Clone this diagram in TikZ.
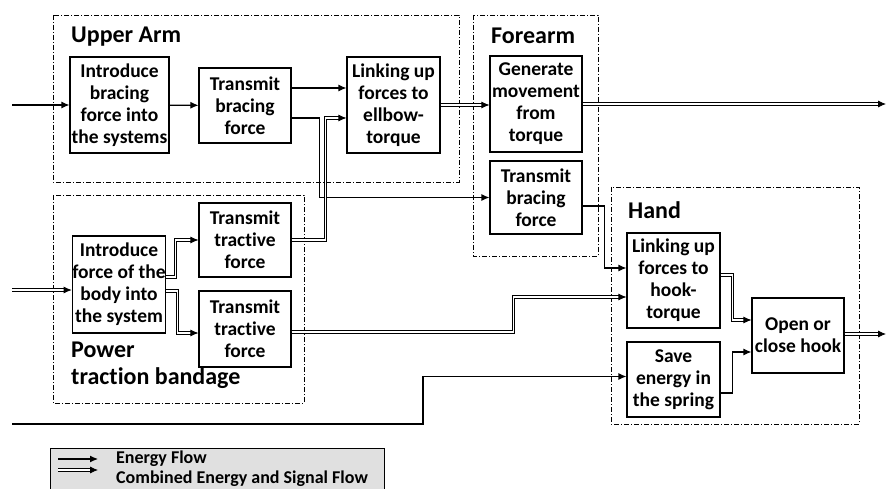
\documentclass[tikz,border=0pt]{standalone}
\usepackage{fontspec}
\setmainfont{Carlito}[Ligatures=NoCommon]
\usetikzlibrary{arrows.meta}

\begin{document}
\begin{tikzpicture}
  [x=1pt,y=-1pt,
   blk/.style={draw,line width=1.1pt,align=center,inner sep=0pt,
     font=\fontsize{19.5}{22}\selectfont\bfseries},
   sz/.style 2 args={minimum width=#1pt,minimum height=#2pt},
   grp/.style={draw,line width=0.7pt,dash pattern=on 5pt off 2pt on 1pt off 2pt},
   hdr/.style={anchor=west,inner sep=0pt,align=left,
     font=\fontsize{24}{27}\selectfont\bfseries},
   ef/.style={line width=1.1pt,-{Latex[length=8pt,width=7pt]}},
   cf/.style={line width=0.8pt,double=white,double distance=1.6pt,
     -{Latex[length=8pt,width=7pt]}}]
  \useasboundingbox (0,0) rectangle (886,489);
  % groups
  \draw[grp] (53,15) rectangle (459,182);
  \draw[grp] (473,15) rectangle (598,256);
  \draw[grp] (53,195) rectangle (304,403);
  \draw[grp] (611,187) rectangle (859,424);
  \node[hdr] (lua) at (71,37) {Upper Arm};
  \node[hdr] (lfa) at (491,36) {Forearm};
  \node[hdr] (lha) at (628,210) {Hand};
  \node[hdr,anchor=north west] (lpt) at (71,342) {Power\\traction bandage};
  % blocks
  \node[blk,sz={99}{96}] (ua1) at (119.5,105) {Introduce\\bracing\\force into\\the systems};
  \node[blk,sz={92}{75}] (ua2) at (245,105.5) {Transmit\\bracing\\force};
  \node[blk,sz={93}{96}] (ua3) at (393.5,105) {Linking up\\forces to\\ellbow-\\torque};
  \node[blk,sz={92}{96}] (fa1) at (536,104) {Generate\\movement\\from\\torque};
  \node[blk,sz={92}{73}] (fa2) at (536,197.5) {Transmit\\bracing\\force};
  \node[blk,sz={92}{97}] (pt1) at (119,284.5) {Introduce\\force of the\\body into\\the system};
  \node[blk,sz={92}{74}] (pt2) at (245,240) {Transmit\\tractive\\force};
  \node[blk,sz={92}{76}] (pt3) at (245,329) {Transmit\\tractive\\force};
  \node[blk,sz={93}{95}] (ha1) at (673.5,280.5) {Linking up\\forces to\\hook-\\torque};
  \node[blk,sz={93}{75}] (ha2) at (673.5,379.5) {Save\\energy in\\the spring};
  \node[blk,sz={92}{75}] (ha3) at (798,335.5) {Open or\\close hook};
  \coordinate (in1) at (12,105);
  \coordinate (in2) at (12,290);
  \coordinate (in3) at (12,424);
  \coordinate (out1) at (886,104);
  \coordinate (out2) at (886,334);
  % energy flow
  \foreach \from/\to in {in1/ua1,ua1/ua2}
    \draw[ef] (\from) -- (\to);
  \draw[ef] ([yshift=17.5pt]ua2.east) -- ([yshift=17.5pt]ua2.east -| ua3.west);
  \draw[ef] ([yshift=-12.5pt]ua2.east) -- ++(28,0) |- (fa2.west);
  \draw[ef] ([yshift=-8.5pt]fa2.east) -- ++(22,0) |- ([yshift=12.5pt]ha1.west);
  \draw[ef] (in3) -- ++(411,0) |- ([yshift=3pt]ha2.west);
  \draw[ef] ([yshift=-13.5pt]ha2.east) -- ++(12,0) |- ([yshift=-16.5pt]ha3.west);
  % combined flow
  \draw[cf] (in2) -- (in2 -| pt1.west);
  \draw[cf] ([yshift=7.5pt]pt1.east) -- ++(9,0) |- (pt2.west);
  \draw[cf] ([yshift=-6.5pt]pt1.east) -- ++(11,0) |- ([yshift=-4pt]pt3.west);
  \draw[cf] (pt2.east) -- ++(34,0) |- ([yshift=-13pt]ua3.west);
  \draw[cf] (ua3.east) -- (ua3.east -| fa1.west);
  \draw[cf] (fa1.east) -- (out1);
  \draw[cf] ([yshift=-3pt]pt3.east) -- ++(222,0) |- ([yshift=-16.5pt]ha1.west);
  \draw[cf] ([yshift=5.5pt]ha1.east) -- ++(12,0) |- ([yshift=15.5pt]ha3.west);
  \draw[cf] ([yshift=1.5pt]ha3.east) -- (out2);
  % legend
  \draw[line width=0.8pt,fill=black!12] (50,448) rectangle (384,496);
  \coordinate (le1) at (58,459);
  \coordinate (le2) at (58,470);
  \draw[ef] (le1) -- ++(40,0);
  \draw[cf] (le2) -- ++(40,0);
  \node[anchor=west,inner sep=0pt,font=\fontsize{18}{20}\selectfont\bfseries] (lt1) at (116,459) {Energy Flow};
  \node[anchor=west,inner sep=0pt,font=\fontsize{18}{20}\selectfont\bfseries] (lt2) at (116,479) {Combined Energy and Signal Flow};
\end{tikzpicture}
\end{document}
